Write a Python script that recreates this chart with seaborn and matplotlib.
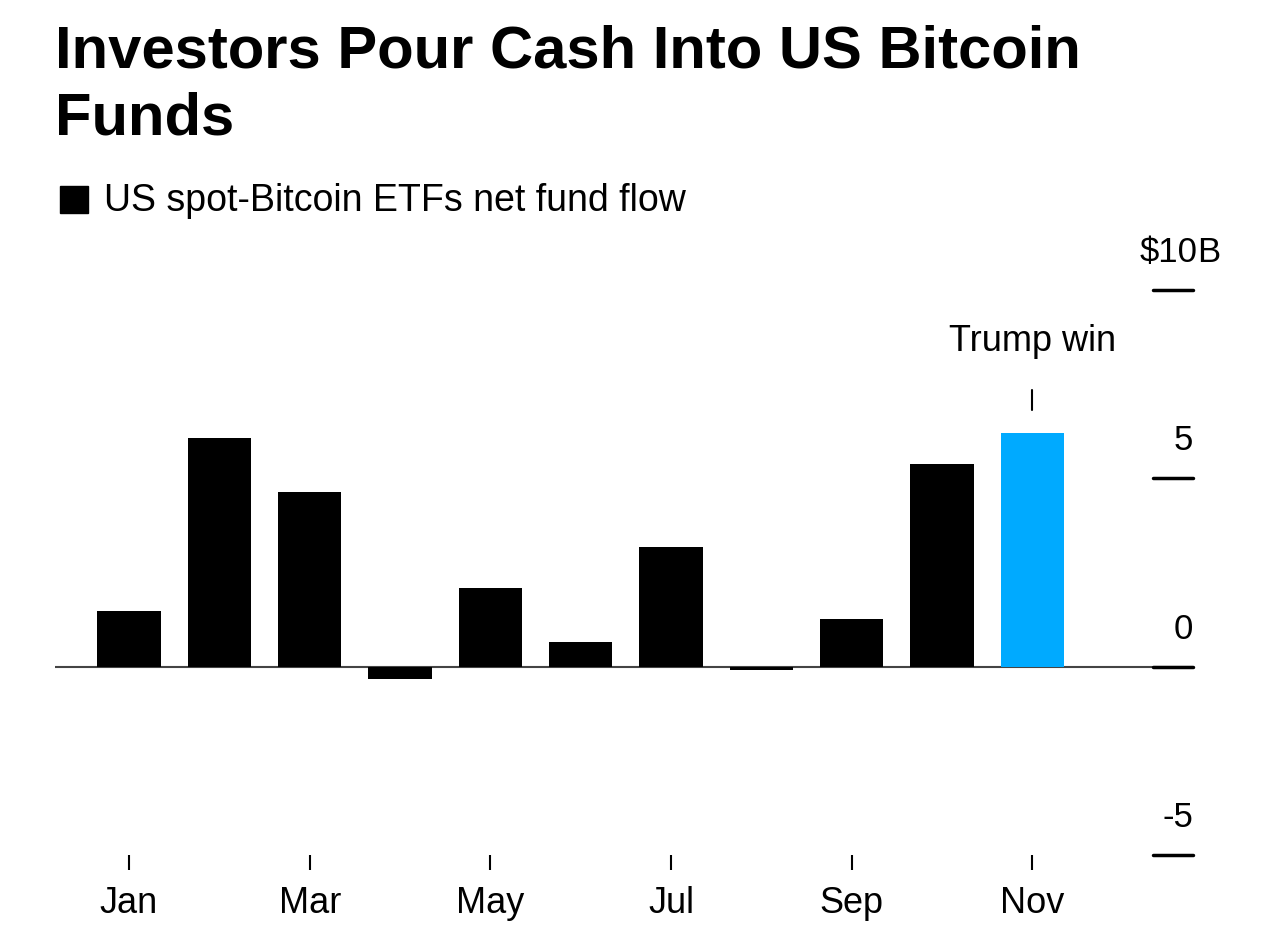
import matplotlib
matplotlib.use("Agg")
import matplotlib.pyplot as plt
import seaborn as sns
import pandas as pd
from matplotlib.patches import Rectangle

# monthly net flows, $ billions
months = ["Jan", "Feb", "Mar", "Apr", "May", "Jun", "Jul", "Aug", "Sep", "Oct", "Nov"]
flows = [1.49, 6.07, 4.64, -0.32, 2.10, 0.66, 3.18, -0.08, 1.27, 5.38, 6.2]
bar_colors = ["#000000"] * 10 + ["#00aaff"]
yticks = [-5, 0, 5, 10]
ytick_labels = ["-5", "0", "5", "$10"]
shown_months = ["Jan", "Mar", "May", "Jul", "Sep", "Nov"]

sns.set_theme(style="white")
plt.rcParams["font.family"] = ["Liberation Sans", "DejaVu Sans"]
plt.rcParams["text.color"] = "black"
plt.rcParams["xtick.color"] = "black"
plt.rcParams["xtick.labelcolor"] = "black"

df = pd.DataFrame({"month": months, "flow": flows})

fig = plt.figure(figsize=(12.8, 9.38), dpi=100)
ax = fig.add_axes([55 / 1280, 1 - 855 / 938, (1193 - 55) / 1280, (855 - 290) / 938])

sns.barplot(data=df, x="month", y="flow", hue="month", palette=bar_colors,
            legend=False, width=0.7, saturation=1, linewidth=0, ax=ax)

ax.set_xlim(-0.82, 11.78)
ax.set_ylim(-5, 10)
sns.despine(ax=ax, left=True, bottom=True, right=True, top=True)

# zero line and right-side tick dashes
ax.axhline(0, color="#444444", lw=1.5, zorder=0)
for v, lab in zip(yticks, ytick_labels):
    dx = 3 if v == yticks[-1] else 0
    ax.axhline(v, xmin=0.965, xmax=1.0, color="black", lw=2.5, clip_on=False)
    ax.annotate(lab, xy=(1.0, v), xycoords=ax.get_yaxis_transform(),
                xytext=(dx, 27), textcoords="offset points",
                ha="right", va="center", fontsize=25, annotation_clip=False)
# unit suffix hangs to the right of the top label
ax.annotate("B", xy=(1.0, yticks[-1]), xycoords=ax.get_yaxis_transform(),
            xytext=(3, 27), textcoords="offset points",
            ha="left", va="center", fontsize=25, annotation_clip=False)
ax.set_yticks([])
ax.set_ylabel("")
ax.set_xlabel("")

pos = [months.index(m) for m in shown_months]
ax.set_xticks(pos)
ax.set_xticklabels(shown_months, fontsize=26)
ax.tick_params(axis="x", direction="out", length=11, width=1.5, pad=11,
               color="black", bottom=True)

# Trump win annotation
nov = months.index("Nov")
ax.text(nov, 8.62, "Trump win", ha="center", va="center", fontsize=26)
ax.plot([nov, nov], [6.82, 7.35], color="black", lw=1.5)

# title and legend
fig.text(55 / 1280, 1 - 24 / 938, "Investors Pour Cash Into US Bitcoin\nFunds",
         ha="left", va="top", fontsize=43, fontweight="bold", linespacing=1.3)
fig.add_artist(Rectangle((60 / 1280, 1 - 213 / 938), 28 / 1280, 27 / 938,
                         transform=fig.transFigure, color="black"))
fig.text(104 / 1280, 1 - 201 / 938, "US spot-Bitcoin ETFs net fund flow",
         ha="left", va="center", fontsize=27)

fig.savefig("out.png", dpi=100)
